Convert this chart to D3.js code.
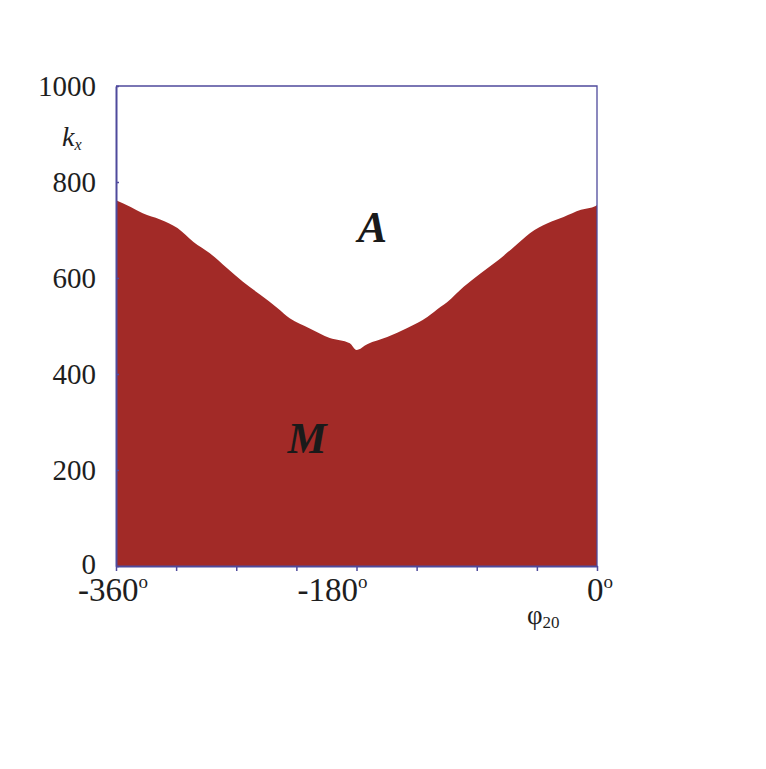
<!DOCTYPE html>
<html>
<head>
<meta charset="utf-8">
<script src="https://cdn.jsdelivr.net/npm/d3@7"></script>
<style>
  html, body { margin: 0; padding: 0; background: #ffffff; }
  svg { display: block; }
  .serif { font-family: "Liberation Serif", "DejaVu Serif", serif; fill: #1e1e1e; }
</style>
</head>
<body>
<svg id="chart" width="766" height="769"></svg>
<script>
// Phase boundary k_x(φ20) between the A and M regions
const phi = [-360, -349, -340, -327, -314, -302, -290, -277, -265, -252, -239, -230,
             -215, -200, -185, -180, -172, -157, -142, -127, -117, -112, -100, -87,
             -74, -62, -50, -37, -25, -12, -1, 0];
const kx  = [762, 748, 735, 722, 704, 675, 652, 621, 592, 565, 537, 516,
             495, 475, 464, 450, 462, 477, 496, 519, 540, 550, 581, 610,
             637, 665, 694, 714, 727, 742, 750, 752];

const xTicks = [-360, -315, -270, -225, -180, -135, -90, -45, 0];
const xLabels = [-360, -180, 0];
const yTicks = [0, 200, 400, 600, 800, 1000];

const regionNames = ["A", "M"];
const regionAt = [[-168, 675], [-217, 235]]; // [φ, k] anchor of each region name

const W = 766, H = 769;
const plotL = 116, plotR = 597, plotT = 86, plotB = 566;
const axisColor = "#4f4a9c";
const fillColor = "#a22a27";

const svg = d3.select("#chart");
svg.append("rect").attr("width", W).attr("height", H).attr("fill", "#ffffff");

const x = d3.scaleLinear().domain([-360, 0]).range([plotL, plotR]);
const y = d3.scaleLinear().domain([0, 1000]).range([plotB, plotT]);

const data = phi.map((p, i) => ({ p, k: kx[i] }));

// M region (filled below the boundary)
const area = d3.area()
  .x(d => x(d.p))
  .y0(y(0))
  .y1(d => y(d.k))
  .curve(d3.curveMonotoneX);

svg.append("path")
  .datum(data)
  .attr("d", area)
  .attr("fill", fillColor);

// frame: top and right edges
svg.append("path")
  .attr("d", `M${x(-360)},${y(1000)}H${x(0)}V${y(0)}`)
  .attr("fill", "none")
  .attr("stroke", axisColor)
  .attr("stroke-width", 1.3);

// x axis
const gx = svg.append("g")
  .attr("transform", `translate(0,${y(0)})`)
  .call(d3.axisBottom(x).tickValues(xTicks).tickSize(5).tickSizeOuter(0).tickFormat(""));
gx.select(".domain").attr("stroke", axisColor).attr("stroke-width", 2);
gx.selectAll(".tick line").attr("stroke", axisColor).attr("stroke-width", 1.5);

// y axis
const gy = svg.append("g")
  .attr("transform", `translate(${x(-360)},0)`)
  .call(d3.axisLeft(y).tickValues(yTicks).tickSize(4).tickSizeOuter(0).tickFormat(""));
gy.select(".domain").attr("stroke", axisColor).attr("stroke-width", 2);
gy.selectAll(".tick line").attr("x2", 3).attr("stroke", axisColor).attr("stroke-width", 1.5);

// y tick labels
svg.append("g").selectAll("text")
  .data(yTicks)
  .join("text")
  .attr("class", "serif")
  .attr("x", plotL - 20)
  .attr("y", d => y(d) - (d === 0 ? 2 : 0))
  .attr("dy", "0.35em")
  .attr("text-anchor", "end")
  .attr("font-size", 29)
  .text(d => d);

// x tick labels with degree sign
const xLabelShift = { "-360": -38, "-180": -59, "0": -10 };
const xl = svg.append("g").selectAll("text")
  .data(xLabels)
  .join("text")
  .attr("class", "serif")
  .attr("x", d => x(d) + xLabelShift[d])
  .attr("y", plotB + 35)
  .attr("font-size", 33);
xl.append("tspan").text(d => d);
xl.append("tspan").attr("font-size", 19).attr("dy", -13).text("o");

// axis titles
const kt = svg.append("text").attr("class", "serif")
  .attr("x", 62).attr("y", 146)
  .attr("font-size", 28).attr("font-style", "italic");
kt.append("tspan").text("k");
kt.append("tspan").attr("font-size", 16).attr("dy", 4).text("x");

const pt = svg.append("text").attr("class", "serif")
  .attr("x", 527).attr("y", 624)
  .attr("font-size", 27);
pt.append("tspan").text("φ");
pt.append("tspan").attr("font-size", 17).attr("dy", 4).text("20");

// region names
svg.append("g").selectAll("text")
  .data(regionNames)
  .join("text")
  .attr("class", "serif")
  .attr("x", (d, i) => x(regionAt[i][0]))
  .attr("y", (d, i) => y(regionAt[i][1]))
  .attr("text-anchor", "middle")
  .attr("font-size", 44)
  .attr("font-weight", "bold")
  .attr("font-style", "italic")
  .style("fill", "#1a1a1a")
  .text(d => d);
</script>
</body>
</html>
